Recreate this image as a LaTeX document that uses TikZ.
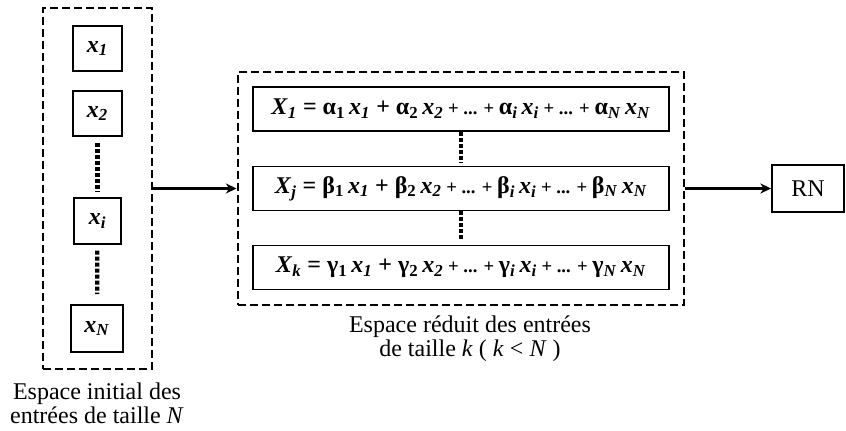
\documentclass[tikz,border=0pt]{standalone}
\usepackage{fontspec}
\setmainfont{Liberation Serif}
\usetikzlibrary{arrows.meta,positioning,fit,calc}
\newcommand{\var}[2]{\textit{#1}\textsubscript{\textit{#2}}}
\newcommand{\coef}[2]{#1\textsubscript{#2}}
\newcommand{\pp}{{\fontsize{14}{14}\selectfont\ + ... + }}

\begin{document}
\begin{tikzpicture}[x=0.75pt, y=-0.75pt, every node/.style={font=\fontsize{18}{18}\selectfont},
  entree/.style={draw, line width=1.4pt, inner sep=0pt, minimum width=36.75pt, minimum height=34pt, font=\fontsize{18}{18}\selectfont\bfseries},
  groupe/.style={draw, line width=2.2pt, dash pattern=on 6pt off 3pt, inner sep=0pt},
  ligne/.style={draw, line width=1.4pt, inner sep=0pt, minimum width=312pt, minimum height=33pt, font=\fontsize{18}{18}\selectfont\bfseries},
  pointille/.style={line width=3.2pt, dash pattern=on 3pt off 1.5pt},
  fleche/.style={-{Stealth[length=8pt,width=7.5pt]}, line width=2.4pt}]
  \useasboundingbox (0,0) rectangle (846,431);
  % espace initial
  \node[groupe, minimum width=81.75pt, minimum height=270.75pt] (gauche) at (97.5,188.5) {};
  \node[entree] (x1) at (97.5,48.5) {\var{x}{1}};
  \node[entree] (x2) at (97.5,113.5) {\var{x}{2}};
  \node[entree, minimum width=35.25pt] (xi) at (97.5,221) {\var{x}{i}};
  \node[entree, minimum width=39pt, minimum height=35.25pt] (xN) at (97,328.5) {\var{x}{N}};
  \draw[pointille, shorten <=4.5pt, shorten >=4.5pt] (x2) -- (xi);
  \draw[pointille, shorten <=4.5pt, shorten >=7.5pt] (xi) -- (xN);
  \node[align=center, anchor=north, inner sep=0pt] (legendeG) at (97,382.5)
    {Espace initial des\\entrées de taille \textit{N}};
  % espace reduit
  \node[groupe, minimum width=334.5pt, minimum height=174.75pt] (reduit) at (461,188.5) {};
  \node[ligne] (X1) at (461,109) {\var{X}{1} = \coef{α}{1}\,\var{x}{1} + \coef{α}{2}\,\var{x}{2}\pp\coef{α}{\textit{i}}\,\var{x}{i}\pp\coef{α}{\textit{N}}\,\var{x}{N}};
  \node[ligne] (Xj) at (461,188.5) {\var{X}{j} = \coef{β}{1}\,\var{x}{1} + \coef{β}{2}\,\var{x}{2}\pp\coef{β}{\textit{i}}\,\var{x}{i}\pp\coef{β}{\textit{N}}\,\var{x}{N}};
  \node[ligne] (Xk) at (461,267.5) {\var{X}{k} = \coef{γ}{1}\,\var{x}{1} + \coef{γ}{2}\,\var{x}{2}\pp\coef{γ}{\textit{i}}\,\var{x}{i}\pp\coef{γ}{\textit{N}}\,\var{x}{N}};
  \draw[pointille, shorten >=2pt] (X1) -- (Xj);
  \draw[pointille, shorten >=3pt] (Xj) -- (Xk);
  \node[align=center, anchor=north, inner sep=0pt] (legendeR) at (470,315.5)
    {Espace réduit des entrées\\de taille \textit{k} ( \textit{k} < \textit{N} )};
  % reseau
  \node[draw, line width=1.4pt, minimum width=54pt, minimum height=35.25pt, inner sep=0pt] (rn) at (808,188.5) {RN};
  \draw[fleche] (gauche.east) -- (reduit.west);
  \draw[fleche] (reduit.east) -- (rn.west);
\end{tikzpicture}
\end{document}
